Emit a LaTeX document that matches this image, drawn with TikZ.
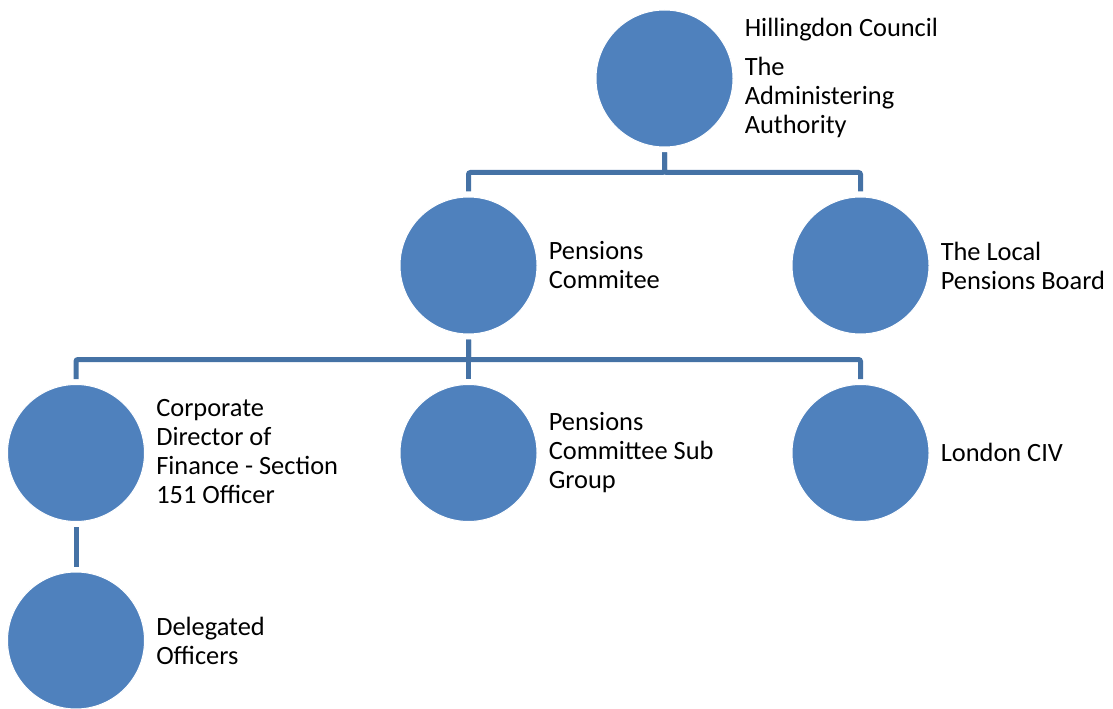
\documentclass[tikz,border=0pt]{standalone}
\usepackage{fontspec}
\setmainfont{Carlito}
\definecolor{circ}{RGB}{79,129,189}
\definecolor{conn}{RGB}{69,114,165}
\begin{document}
\begin{tikzpicture}[x=0.75pt,y=-0.75pt,
 orgcircle/.style={circle, fill=circ, draw=white, line width=0.75pt, minimum size=102.75pt, inner sep=0pt},
 lbl/.style={anchor=west, align=left, inner sep=0pt, font=\fontsize{19.8pt}{21.75pt}\selectfont},
 link/.style={draw=conn, line width=3.75pt, rounded corners=1.5pt, shorten <=3.75pt, shorten >=3.75pt}]
\useasboundingbox (0,0) rectangle (1113,709);
\node[orgcircle] (ha) at (664.5,78.5) {};
\node[orgcircle] (pc) at (468.5,265.5) {};
\node[orgcircle] (lpb) at (860.5,265.5) {};
\node[orgcircle] (cdf) at (76,453) {};
\node[orgcircle] (pcs) at (468.5,453) {};
\node[orgcircle] (civ) at (860.5,453) {};
\node[orgcircle] (del) at (76,640.5) {};

\node[lbl] (tha) at (744.5,78) {Hillingdon Council\\[7.5pt]The\\Administering\\Authority};
\node[lbl] (tpc) at (548.5,265.5) {Pensions\\Commitee};
\node[lbl] (tlpb) at (940.5,265.5) {The Local\\Pensions Board};
\node[lbl] (tcdf) at (156,452) {Corporate\\Director of\\Finance - Section\\151 Officer};
\node[lbl] (tpcs) at (548.5,452.5) {Pensions\\Committee Sub\\Group};
\node[lbl] (tciv) at (940.5,452.5) {London CIV};
\node[lbl] (tdel) at (156,640.5) {Delegated\\Officers};

\draw[link] (ha.south) -- ++(0,25) -| (pc.north);
\draw[link] (ha.south) -- ++(0,25) -| (lpb.north);
\draw[link] (pc.south) -- ++(0,25) -| (cdf.north);
\draw[link] (pc.south) -- (pcs.north);
\draw[link] (pc.south) -- ++(0,25) -| (civ.north);
\draw[link] (cdf.south) -- (del.north);
\end{tikzpicture}
\end{document}
